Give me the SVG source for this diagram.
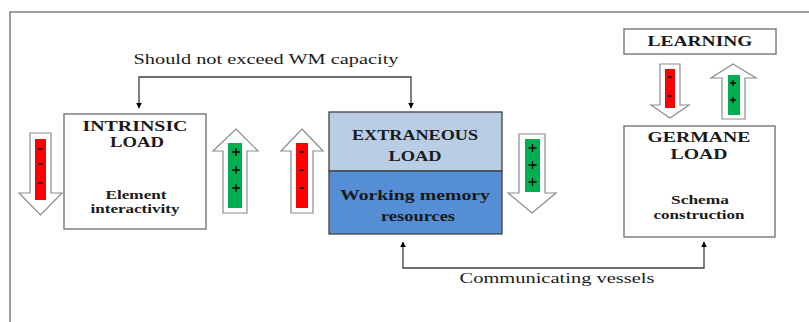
<svg xmlns="http://www.w3.org/2000/svg" width="809" height="322" viewBox="0 0 809 322">
  <style>
    .frame { fill: none; stroke: #808080; stroke-width: 1.5; }
    .box { fill: #ffffff; stroke: #7f7f7f; stroke-width: 1.5; }
    .arrow { fill: #ffffff; stroke: #8c8c8c; stroke-width: 1.2; }
    .red { fill: #ff0000; }
    .green { fill: #00b050; }
    .mark { stroke: #000000; stroke-width: 1.3; fill: none; }
    .title { font-family: "Liberation Serif", "Times New Roman", serif; font-weight: bold; font-size: 14px; fill: #1a1a1a; text-anchor: middle; }
    .sub { font-family: "Liberation Serif", "Times New Roman", serif; font-weight: bold; font-size: 12px; fill: #1a1a1a; text-anchor: middle; }
    .label { font-family: "Liberation Serif", "Times New Roman", serif; font-size: 14px; fill: #1a1a1a; text-anchor: middle; }
    .conn { fill: none; stroke: #404040; stroke-width: 1.3; }
  </style>
  <defs>
    <marker id="tip" viewBox="0 0 10 10" refX="9" refY="5" markerWidth="6" markerHeight="6" orient="auto-start-reverse" markerUnits="userSpaceOnUse">
      <path d="M0,0 L10,5 L0,10 Z" fill="#000000"/>
    </marker>
  </defs>

  <rect width="809" height="322" fill="#ffffff"/>
  <!-- page frame -->
  <path class="frame" d="M10,322 V12 H809"/>

  <!-- connectors -->
  <g id="connectors">
    <path class="conn" d="M139,108 V77 H411 V108" marker-start="url(#tip)" marker-end="url(#tip)"/>
    <text class="label" x="266" y="64" textLength="265" lengthAdjust="spacingAndGlyphs">Should not exceed WM capacity</text>
    <path class="conn" d="M403,242 V268 H704 V242" marker-start="url(#tip)" marker-end="url(#tip)"/>
    <text class="label" x="557" y="283" textLength="195" lengthAdjust="spacingAndGlyphs">Communicating vessels</text>
  </g>

  <!-- intrinsic load -->
  <g id="intrinsic">
    <rect class="box" x="64" y="114" width="142" height="115"/>
    <text class="title" x="135" y="131" textLength="105" lengthAdjust="spacingAndGlyphs">INTRINSIC</text>
    <text class="title" x="137" y="147" textLength="54" lengthAdjust="spacingAndGlyphs">LOAD</text>
    <text class="sub" x="136" y="199" textLength="61" lengthAdjust="spacingAndGlyphs">Element</text>
    <text class="sub" x="135" y="213" textLength="89" lengthAdjust="spacingAndGlyphs">interactivity</text>
  </g>

  <!-- extraneous load over working memory -->
  <g id="extraneous">
    <rect x="329" y="112" width="173" height="59" fill="#b9cde5" stroke="#404040" stroke-width="1.3"/>
    <rect x="329" y="171" width="173" height="63" fill="#558ed5" stroke="#404040" stroke-width="1.3"/>
    <text class="title" x="415" y="140" textLength="126" lengthAdjust="spacingAndGlyphs">EXTRANEOUS</text>
    <text class="title" x="415" y="161" textLength="53" lengthAdjust="spacingAndGlyphs">LOAD</text>
    <text class="title" x="415" y="200" font-size="13" textLength="150" lengthAdjust="spacingAndGlyphs">Working memory</text>
    <text class="title" x="418" y="221" font-size="13" textLength="74" lengthAdjust="spacingAndGlyphs">resources</text>
  </g>

  <!-- germane load -->
  <g id="germane">
    <rect class="box" x="624" y="126" width="151" height="111"/>
    <text class="title" x="699" y="142" textLength="103" lengthAdjust="spacingAndGlyphs">GERMANE</text>
    <text class="title" x="699" y="159" textLength="57" lengthAdjust="spacingAndGlyphs">LOAD</text>
    <text class="sub" x="700" y="204" textLength="58" lengthAdjust="spacingAndGlyphs">Schema</text>
    <text class="sub" x="699" y="219" textLength="91" lengthAdjust="spacingAndGlyphs">construction</text>
  </g>

  <!-- learning -->
  <g id="learning">
    <rect class="box" x="624" y="29" width="152" height="25"/>
    <text class="title" x="700" y="46" textLength="105" lengthAdjust="spacingAndGlyphs">LEARNING</text>
  </g>

  <!-- intrinsic: decrease arrow -->
  <g id="intrinsic-down">
    <path class="arrow" d="M30,133 H51 V193 H62 L40.5,215 L19,193 H30 Z"/>
    <rect class="red" x="35" y="139" width="11" height="61"/>
    <path class="mark" d="M38.5,149 H42.5 M38.5,164 H42.5 M38.5,183 H42.5"/>
  </g>

  <!-- intrinsic: increase arrow -->
  <g id="intrinsic-up">
    <path class="arrow" d="M236,129 L258,151 H247 V213 H223 V151 H213 Z"/>
    <rect class="green" x="228" y="143" width="14" height="65"/>
    <path class="mark" d="M232,152 H240 M236,148 V156 M232,170 H240 M236,166 V174 M232,188 H240 M236,184 V192"/>
  </g>

  <!-- extraneous: increase arrow -->
  <g id="extraneous-up">
    <path class="arrow" d="M302,129 L323,151 H313 V213 H291 V151 H281 Z"/>
    <rect class="red" x="296" y="143" width="12" height="65"/>
    <path class="mark" d="M300,152 H304 M300,170 H304 M300,188 H304"/>
  </g>

  <!-- working memory: decrease arrow -->
  <g id="extraneous-down">
    <path class="arrow" d="M519,134 H545 V193 H556 L532,213 L508,193 H519 Z"/>
    <rect class="green" x="525" y="139" width="15" height="53"/>
    <path class="mark" d="M528.5,148 H536.5 M532.5,144 V152 M528.5,165 H536.5 M532.5,161 V169 M528.5,182 H536.5 M532.5,178 V186"/>
  </g>

  <!-- learning: decrease arrow -->
  <g id="learning-down">
    <path class="arrow" d="M660,64 H680 V105 H689 L670,118 L651,105 H660 Z"/>
    <rect class="red" x="665" y="69" width="10" height="39"/>
    <path class="mark" d="M668,77 H672 M668,96 H672"/>
  </g>

  <!-- learning: increase arrow -->
  <g id="learning-up">
    <path class="arrow" d="M733,64 L756,78 H745 V119 H722 V78 H711 Z"/>
    <rect class="green" x="728" y="75" width="12" height="40"/>
    <path class="mark" d="M730,83 H736 M733,80 V86 M730,100 H736 M733,97 V103"/>
  </g>
</svg>
